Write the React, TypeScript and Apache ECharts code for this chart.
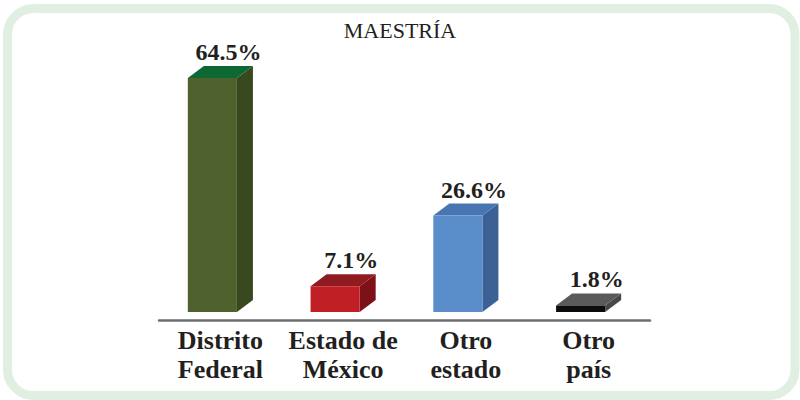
import React, { useEffect, useRef } from "react";
import * as echarts from "echarts";

const categories = ["Distrito\nFederal", "Estado de\nMéxico", "Otro\nestado", "Otro\npaís"];
const values = [64.5, 7.1, 26.6, 1.8];
const titleText = "MAESTRÍA";

const frontColors = ["#4f622d", "#c01f26", "#5a8ecb", "#0b0c0c"];
const sideColors = ["#38481f", "#7c1117", "#3b6195", "#474747"];
const topColors = ["#0e6834", "#8f1a1f", "#4876b3", "#5a5a5a"];

const FONT = "'Liberation Serif', 'DejaVu Serif', serif";
const TEXT = "#231f20";

export default function App() {
  const ref = useRef<HTMLDivElement>(null);

  useEffect(() => {
    document.body.style.margin = "0";
    if (!ref.current) return;
    const chart = echarts.init(ref.current, undefined, { renderer: "svg" });
    const dx = 16;
    const dy = 12;
    const shift = 8;
    chart.setOption({
      animation: false,
      backgroundColor: "#ffffff",
      title: {
        text: titleText,
        left: "center",
        top: 14,
        textStyle: { fontFamily: FONT, fontSize: 22, fontWeight: "normal", color: TEXT },
      },
      graphic: [
        {
          type: "rect",
          shape: { x: 7.5, y: 8.5, width: 787.5, height: 387, r: 26 },
          style: { fill: "none", stroke: "#e0efe2", lineWidth: 9 },
          silent: true,
        },
      ],
      grid: { left: 159, right: 150, top: 40, bottom: 88 },
      xAxis: {
        type: "category",
        data: categories,
        offset: 8,
        axisLine: { show: true, onZero: false, lineStyle: { color: "#6d6e71", width: 2.5 } },
        axisTick: { show: false },
        axisLabel: {
          margin: 6,
          fontFamily: FONT,
          fontSize: 26,
          fontWeight: "bold",
          lineHeight: 29,
          color: TEXT,
          interval: 0,
        },
      },
      yAxis: { type: "value", min: 0, max: 75, show: false, splitLine: { show: false } },
      series: [
        {
          type: "custom",
          data: values.map((v, i) => [i, v]),
          renderItem: (params: any, api: any) => {
            const idx = api.value(0);
            const val = api.value(1);
            const topPt = api.coord([idx, val]);
            const basePt = api.coord([idx, 0]);
            const band = api.size([1, 0])[0];
            const w = band * 0.4;
            const cx = topPt[0] - shift;
            const l = cx - w / 2;
            const r = cx + w / 2;
            const t = topPt[1];
            const b = basePt[1];
            return {
              type: "group",
              children: [
                {
                  type: "polygon",
                  shape: { points: [[r, t], [r + dx, t - dy], [r + dx, b - dy], [r, b]] },
                  style: { fill: sideColors[idx] },
                },
                {
                  type: "polygon",
                  shape: { points: [[l, t], [l + dx, t - dy], [r + dx, t - dy], [r, t]] },
                  style: { fill: topColors[idx] },
                },
                {
                  type: "rect",
                  shape: { x: l, y: t, width: w, height: b - t },
                  style: { fill: frontColors[idx] },
                },
                {
                  type: "text",
                  x: cx + 16,
                  y: t - dy - 2,
                  style: {
                    text: val.toFixed(1) + "%",
                    fontFamily: FONT,
                    fontSize: 24,
                    fontWeight: "bold",
                    fill: TEXT,
                    align: "center",
                    verticalAlign: "bottom",
                  },
                },
              ],
            };
          },
        },
      ],
    });
    return () => chart.dispose();
  }, []);

  return (
    <div
      ref={ref}
      style={{ width: 800, height: 400, position: "absolute", left: 0, top: 0 }}
    />
  );
}
